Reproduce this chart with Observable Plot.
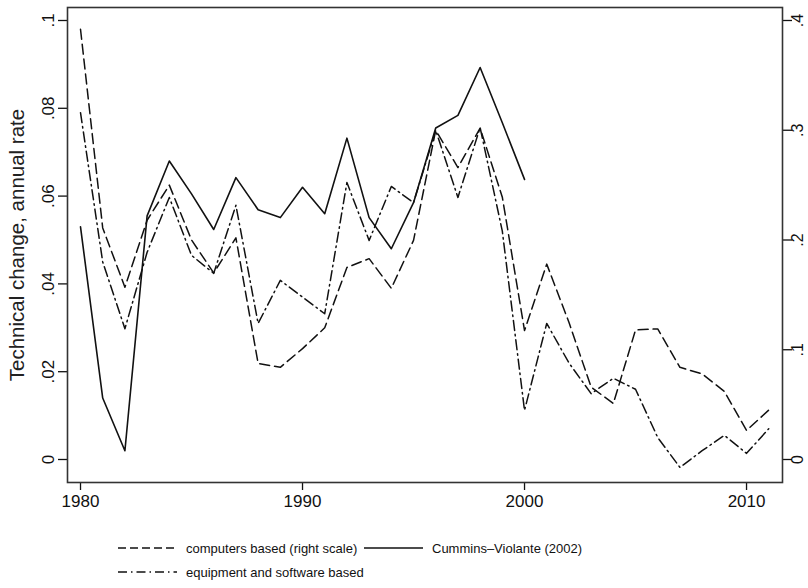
<!DOCTYPE html>
<html>
<head>
<meta charset="utf-8">
<script src="https://cdn.jsdelivr.net/npm/d3@7"></script>
<script src="https://cdn.jsdelivr.net/npm/@observablehq/plot@0.6"></script>
<style>
  html, body { margin: 0; padding: 0; background: #fff; }
  #wrap { position: relative; width: 808px; height: 588px; font-family: "Liberation Sans", Arial, sans-serif; color: #111; }
  #legend { position: absolute; left: 0; top: 522px; width: 808px; height: 66px; pointer-events: none; }
</style>
</head>
<body>
<div id="wrap">
  <div id="chart"></div>
  <div id="legend"></div>
</div>
<script>
// ---------- data ----------
const years = [1980,1981,1982,1983,1984,1985,1986,1987,1988,1989,1990,1991,1992,1993,1994,1995,
               1996,1997,1998,1999,2000,2001,2002,2003,2004,2005,2006,2007,2008,2009,2010,2011];

// Cummins–Violante (2002), left scale, 1980–2000
const cumminsViolante = [0.053,0.014,0.002,0.0555,0.068,0.0605,0.0524,0.0642,0.0569,0.0551,0.062,
                         0.056,0.0732,0.0551,0.048,0.0585,0.0755,0.0784,0.0893,0.0767,0.0638];

// computers based, RIGHT scale, 1980–2011
const computersRight = [0.392,0.211,0.157,0.218,0.25,0.20,0.17,0.202,0.0875,0.084,0.101,0.12,
                        0.175,0.183,0.156,0.1996,0.30,0.266,0.302,0.239,0.1175,0.178,0.125,0.066,
                        0.051,0.118,0.119,0.084,0.078,0.062,0.0265,0.045];

// equipment and software based, left scale, 1980–2011
const equipmentSoftware = [0.079,0.045,0.0298,0.0472,0.0597,0.0465,0.0424,0.0579,0.031,0.0408,0.037,
                           0.0332,0.0631,0.0499,0.0622,0.0585,0.075,0.0597,0.0756,0.052,0.0112,0.031,
                           0.022,0.015,0.0185,0.016,0.005,-0.0018,0.002,0.0055,0.0014,0.007];

const leftTicks = [0, 0.02, 0.04, 0.06, 0.08, 0.1];
const leftTickLabels = ["0", ".02", ".04", ".06", ".08", ".1"];
const rightTicks = [0, 0.1, 0.2, 0.3, 0.4];
const rightTickLabels = ["0", ".1", ".2", ".3", ".4"];
const xTicks = [1980, 1990, 2000, 2010];
const rightToLeft = 0.25; // right scale .4 aligns with left scale .1

const yTitle = "Technical change, annual rate";
const legendLabels = ["computers based (right scale)", "Cummins\u2013Violante (2002)", "equipment and software based"];

// ---------- tables ----------
const cvData = cumminsViolante.map((v, i) => ({year: years[i], value: v}));
const compData = computersRight.map((v, i) => ({year: years[i], value: v * rightToLeft}));
const eqData = equipmentSoftware.map((v, i) => ({year: years[i], value: v}));
const leftMap = new Map(leftTicks.map((t, i) => [t, leftTickLabels[i]]));
const rightMap = new Map(rightTicks.map((t, i) => [t * rightToLeft, rightTickLabels[i]]));

const ink = "#111";
const dashed = "10,5";
const dashDot = "10,4,1.5,4";

const chart = Plot.plot({
  width: 808,
  height: 522,
  marginLeft: 67,
  marginRight: 26,
  marginTop: 7,
  marginBottom: 40,
  x: {domain: [1979.414, 2011.62]},
  y: {domain: [-0.00524, 0.10296]},
  style: {fontFamily: "'Liberation Sans', Arial, sans-serif", color: ink, background: "white"},
  marks: [
    Plot.axisX({ticks: xTicks, tickFormat: d => String(d), tickSize: 8, tickPadding: 4, fontSize: 17, label: null, strokeWidth: 1.3}),
    Plot.axisY({ticks: leftTicks, tickFormat: d => leftMap.get(d), tickSize: 9, tickRotate: -90, tickPadding: 5, fontSize: 17, label: null, strokeWidth: 1.3}),
    Plot.axisY({anchor: "right", ticks: rightTicks.map(t => t * rightToLeft), tickFormat: d => rightMap.get(d), tickSize: 9, tickRotate: -90, lineAnchor: "top", tickPadding: 0, fontSize: 16, label: null, strokeWidth: 1.3}),
    Plot.text([yTitle], {text: d => d, frameAnchor: "left", textAnchor: "middle", dx: -50, rotate: -90, fontSize: 20.5, fill: "#222"}),
    Plot.line(compData, {x: "year", y: "value", stroke: ink, strokeWidth: 1.5, strokeDasharray: dashed}),
    Plot.line(eqData, {x: "year", y: "value", stroke: ink, strokeWidth: 1.5, strokeDasharray: dashDot}),
    Plot.line(cvData, {x: "year", y: "value", stroke: ink, strokeWidth: 1.6}),
    Plot.frame({stroke: "#333", strokeWidth: 1.6})
  ]
});
document.getElementById("chart").appendChild(chart);

// ---------- legend (below the SVG) ----------
const items = [
  {label: legendLabels[0], dash: "8,4", x: 118, y: 26},
  {label: legendLabels[1], dash: null, x: 364, y: 26},
  {label: legendLabels[2], dash: "9,4,1.5,4", x: 118, y: 50}
];
const lsvg = d3.select("#legend").append("svg").attr("width", 808).attr("height", 66);
items.forEach(it => {
  lsvg.append("line")
    .attr("x1", it.x).attr("x2", it.x + 59).attr("y1", it.y).attr("y2", it.y)
    .attr("stroke", ink).attr("stroke-width", 1.5)
    .attr("stroke-dasharray", it.dash);
  lsvg.append("text")
    .attr("x", it.x + 68).attr("y", it.y).attr("dy", "0.35em")
    .attr("font-family", "'Liberation Sans', Arial, sans-serif").attr("font-size", 13)
    .attr("fill", ink).text(it.label);
});
</script>
</body>
</html>
